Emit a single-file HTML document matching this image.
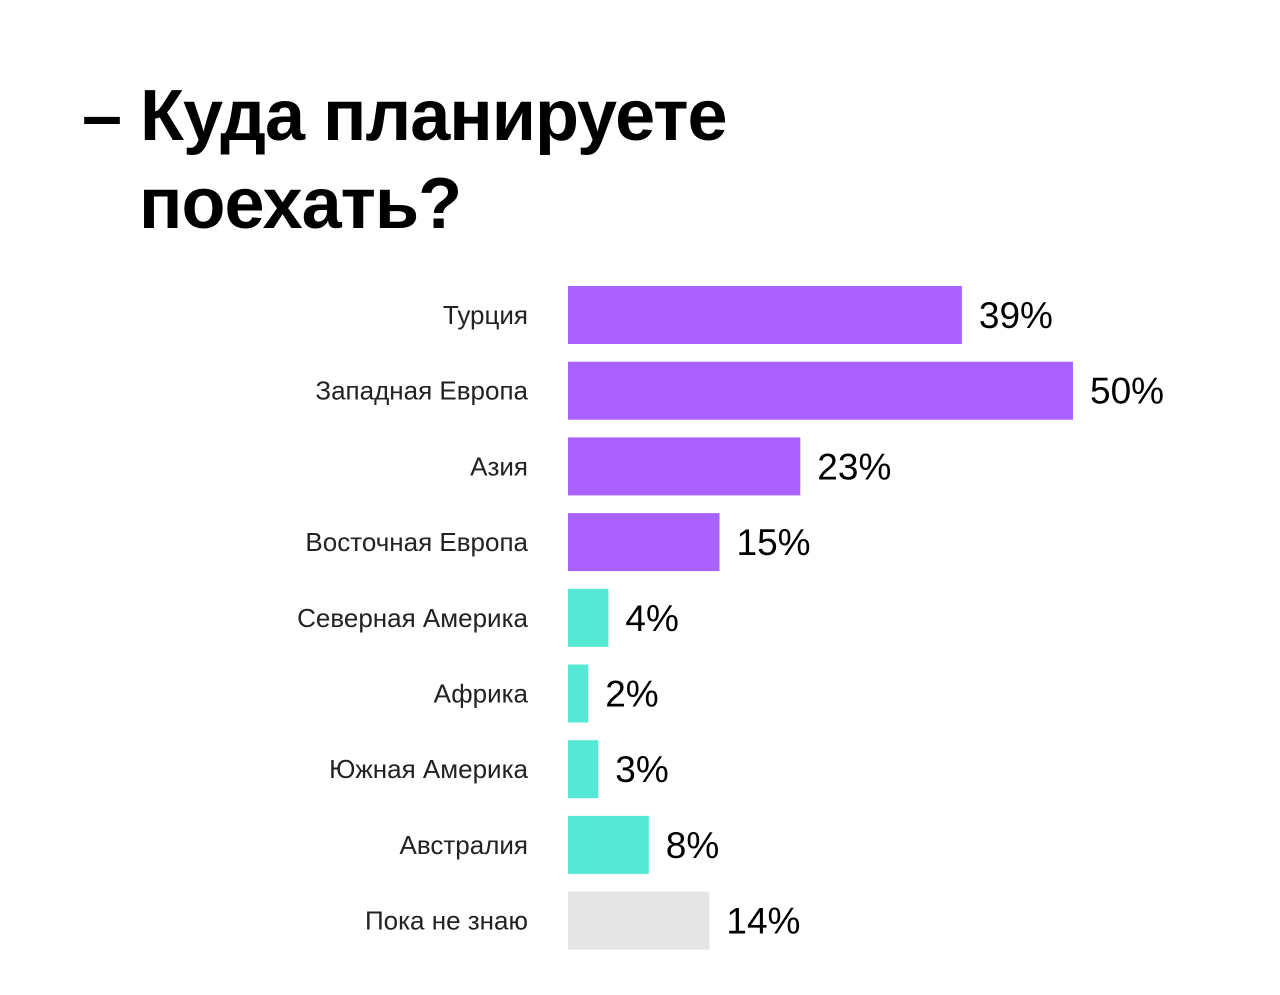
<!DOCTYPE html>
<html><head><meta charset="utf-8">
<style>
body{margin:0;background:#fff;width:1280px;height:995px;overflow:hidden;font-family:"Liberation Sans",sans-serif;}
#title{position:absolute;left:82px;top:72px;font-size:72px;font-weight:bold;line-height:88px;color:#000;letter-spacing:-1px;margin:0}
#title .l2{padding-left:57px}
</style></head><body>
<h1 id="title">– Куда планируете<br><span class="l2">поехать?</span></h1>
<svg id="chart" width="1280" height="995" style="position:absolute;left:0;top:0"></svg>
<script>
const categories=["Турция","Западная Европа","Азия","Восточная Европа","Северная Америка","Африка","Южная Америка","Австралия","Пока не знаю"];
const values=[39,50,23,15,4,2,3,8,14];
const valueLabels=["39%","50%","23%","15%","4%","2%","3%","8%","14%"];
const groups=["p","p","p","p","t","t","t","t","g"];
const colors={p:"#a962ff",t:"#55e8d4",g:"#e5e5e5"};
const ns="http://www.w3.org/2000/svg";
const svg=document.getElementById("chart");
const x0=568, pxPer=10.1, y0=286, pitch=75.7, bh=58;
const xs=v=>v*pxPer;
const ys=i=>y0+i*pitch;
categories.forEach((c,i)=>{
  const y=ys(i);
  const r=document.createElementNS(ns,"rect");
  r.setAttribute("x",x0);r.setAttribute("y",y);
  r.setAttribute("width",xs(values[i]));r.setAttribute("height",bh);
  r.setAttribute("fill",colors[groups[i]]);
  
  
  svg.appendChild(r);
  const t=document.createElementNS(ns,"text");
  t.setAttribute("x",528);t.setAttribute("y",y+bh/2+9);
  t.setAttribute("text-anchor","end");t.setAttribute("font-size","26");
  t.setAttribute("font-family","Liberation Sans, sans-serif");t.setAttribute("fill","#222");
  t.textContent=c;
  
  
  svg.appendChild(t);
  const v=document.createElementNS(ns,"text");
  v.setAttribute("x",x0+xs(values[i])+17);v.setAttribute("y",y+bh/2+13);
  v.setAttribute("font-size","37");
  v.setAttribute("font-family","Liberation Sans, sans-serif");v.setAttribute("fill","#000");
  v.textContent=valueLabels[i];
  
  
  svg.appendChild(v);
});
</script>
</body></html>
